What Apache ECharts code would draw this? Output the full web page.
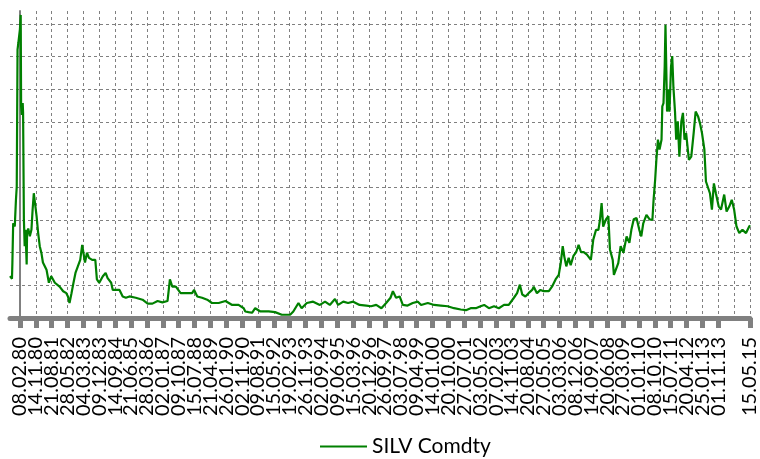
<!DOCTYPE html>
<html><head><meta charset="utf-8">
<script src="https://cdn.jsdelivr.net/npm/echarts@6/dist/echarts.min.js"></script>
<style>html,body{margin:0;padding:0;background:#fff}#c{width:760px;height:459px}</style>
</head><body><div id="c"></div>
<script>
// Tick labels (every 40 weeks starting 08.02.80)
const tickLabels = ['08.02.80','14.11.80','21.08.81','28.05.82','04.03.83','09.12.83','14.09.84','21.06.85','28.03.86','02.01.87','09.10.87','15.07.88','21.04.89','26.01.90','02.11.90','09.08.91','15.05.92','19.02.93','26.11.93','02.09.94','09.06.95','15.03.96','20.12.96','26.09.97','03.07.98','09.04.99','14.01.00','20.10.00','27.07.01','03.05.02','07.02.03','14.11.03','20.08.04','27.05.05','03.03.06','08.12.06','14.09.07','20.06.08','27.03.09','01.01.10','08.10.10','15.07.11','20.04.12','25.01.13','01.11.13','08.08.14','15.05.15'];

// Sample positions: weeks after 08.02.80
const weeks = [-25,-20,-19,-17,-13,-10,-8,-6,-4,0,
2,3,5,7,8,10,12,14,17,18,
21,25,29,32,35,38,42,46,50,54,
58,67,73,79,83,88,93,100,109,117,
121,125,130,135,140,146,152,157,160,164,
169,174,182,190,194,200,209,216,221,230,
234,242,251,259,267,276,292,309,322,334,
347,359,372,378,384,393,405,418,434,439,
447,459,472,484,501,518,535,551,564,568,
576,585,593,606,627,643,660,681,689,702,
710,723,739,756,769,781,794,802,815,827,
840,856,873,885,898,911,923,934,940,948,
957,965,977,990,1003,1011,1028,1044,1061,1078,
1094,1111,1124,1136,1149,1161,1170,1182,1195,1207,
1220,1232,1245,1253,1260,1266,1274,1282,1291,1295,
1303,1312,1320,1333,1341,1350,1358,1363,1368,1372,
1377,1383,1388,1395,1402,1408,1414,1421,1429,1433,
1439,1445,1452,1458,1462,1466,1470,1477,1483,1487,
1494,1497,1502,1508,1514,1521,1529,1536,1541,1547,
1554,1561,1566,1571,1579,1587,1594,1597,1601,1604,
1608,1612,1617,1619,1622,1625,1627,1631,1634,1637,
1641,1644,1647,1651,1654,1658,1662,1667,1671,1675,
1679,1686,1692,1698,1703,1709,1714,1719,1725,1729,
1734,1739,1744,1749,1754,1761,1767,1775,1781,1788,
1794,1800,1806,1813,1821,1830,1838,1840];

// SILV Comdty values
const silv = [9.4,9.0,11.4,17.5,17.0,21.1,23.1,44.1,45.1,47.2,
49.4,35.4,34.1,35.9,34.4,18.1,14.0,16.5,11.2,16.0,
16.7,15.5,16.5,19.6,22.1,20.6,18.6,16.0,14.0,13.0,
11.5,10.4,8.4,9.4,9.4,8.4,8.1,7.8,7.1,6.8,
6.3,5.3,6.8,8.4,9.9,10.9,11.9,14.2,13.0,11.5,
13.0,12.2,11.9,11.9,8.9,8.4,9.4,9.9,9.1,8.4,
7.3,7.3,7.3,6.3,6.1,6.3,6.1,5.8,5.2,5.2,
5.6,5.4,5.6,8.9,7.8,7.8,6.8,6.8,6.8,7.3,
6.3,6.1,5.8,5.3,5.3,5.6,5.0,5.0,4.5,4.0,
3.9,3.8,4.5,4.0,4.0,3.9,3.5,3.5,4.0,5.3,
4.5,5.3,5.5,5.0,5.5,5.0,5.9,5.0,5.5,5.3,
5.5,5.0,4.9,4.8,5.0,4.5,5.3,6.1,7.1,6.1,
6.3,5.0,4.9,5.3,5.5,5.0,5.3,5.0,4.9,4.8,
4.5,4.3,4.2,4.5,4.5,4.8,5.0,4.5,4.8,4.5,
5.0,5.0,6.1,6.8,8.1,6.6,6.3,6.8,7.3,7.8,
6.8,7.3,7.1,7.1,7.8,8.9,9.6,11.4,14.0,12.4,
10.9,12.2,11.1,12.5,13.1,14.2,13.1,13.1,12.7,13.0,
11.9,15.0,16.5,16.5,18.1,20.6,17.0,18.1,18.6,13.5,
11.9,9.6,9.3,11.4,14.0,13.0,15.5,14.5,16.5,18.1,
18.3,16.5,15.5,17.5,18.8,18.1,18.0,21.1,24.2,27.2,
30.3,28.8,30.3,35.4,35.9,41.5,47.9,34.6,38.0,34.6,
41.5,43.1,38.3,34.6,30.3,33.1,27.7,33.1,34.4,30.3,
31.3,27.2,27.7,31.3,34.6,33.9,32.8,31.3,28.8,23.9,
23.6,22.1,19.6,23.6,22.1,20.1,19.6,21.9,19.3,20.1,
21.1,19.6,17.0,16.0,16.5,16.0,17.0,17.2];

const seriesName = 'SILV Comdty';
const FONT = 'Lato, "Liberation Sans", sans-serif';
const X_MIN = -25, X_MAX = 1840;
const labelWeeks = tickLabels.map((_, i) => i * 40);
// an empty placeholder label at the axis start keeps the first real label from being auto-hidden
const labelValues = [X_MIN].concat(labelWeeks);

const chart = echarts.init(document.getElementById('c'), null, {renderer: 'canvas'});
chart.setOption({
  animation: false,
  grid: {left: 10, right: 6, top: 11, bottom: 141, containLabel: false},
  xAxis: {
    type: 'value', min: X_MIN, max: X_MAX,
    axisLine: {show: true, onZero: false, lineStyle: {color: '#808080', width: 5, cap: 'round'}},
    axisTick: {show: true, customValues: labelWeeks, length: 10, lineStyle: {color: '#808080', width: 5}},
    axisLabel: {show: true, customValues: labelValues, rotate: 90, margin: 19,
      showMaxLabel: true, hideOverlap: false, lineHeight: 13,
      formatter: v => (v < 0 ? '' : (tickLabels[Math.round(v / 40)] || '')),
      fontFamily: FONT, fontSize: 20, color: '#000'},
    splitLine: {show: true, lineStyle: {type: [3, 3], color: '#808080', width: 1}}
  },
  yAxis: {
    type: 'value', position: 'right', min: 3, max: 50, interval: 5,
    axisLine: {show: true, lineStyle: {color: '#808080', width: 2}},
    axisTick: {show: false}, axisLabel: {show: false},
    splitLine: {show: true, showMaxLine: false, lineStyle: {type: [3, 3], color: '#808080', width: 1}}
  },
  legend: {
    left: 315, top: 431, itemWidth: 47, itemHeight: 2, icon: 'rect', itemGap: 10,
    textStyle: {fontFamily: FONT, fontSize: 21, color: '#000'},
    data: [seriesName]
  },
  series: [{
    type: 'line', name: seriesName,
    data: weeks.map((w, i) => [w, silv[i]]),
    symbol: 'none', lineStyle: {color: '#008000', width: 2.2}, itemStyle: {color: '#008000'}
  }]
});
</script></body></html>
